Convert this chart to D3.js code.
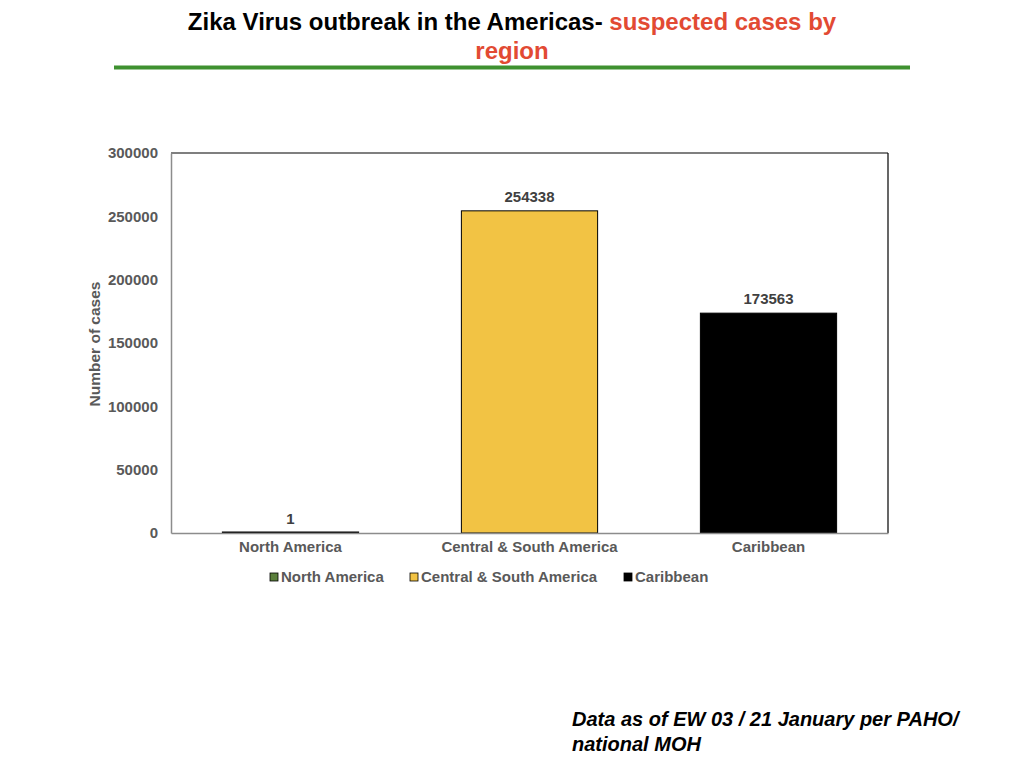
<!DOCTYPE html>
<html>
<head>
<meta charset="utf-8">
<script src="https://cdn.jsdelivr.net/npm/d3@7"></script>
<style>
  body { margin: 0; background: #fff; }
  svg { display: block; }
  text { font-family: "Liberation Sans", Arial, sans-serif; }
</style>
</head>
<body>
<script>
// Chart values
const regions = ["North America", "Central & South America", "Caribbean"];
const cases = [1, 254338, 173563];
const regionColors = ["#5b7f3c", "#f2c344", "#000000"];
const yTicks = [0, 50000, 100000, 150000, 200000, 250000, 300000];

const width = 1024;
const height = 768;
const plot = {left: 171, top: 153, right: 888, bottom: 533};

const svg = d3.select('body')
  .append('svg')
  .attr('width', width)
  .attr('height', height);

// Title
const title = svg.append('text')
  .attr('x', 512)
  .attr('y', 30)
  .attr('text-anchor', 'middle')
  .style('font-weight', 'bold')
  .style('font-size', '24px');
title.append('tspan').attr('fill', '#000').text('Zika Virus outbreak in the Americas- ');
title.append('tspan').attr('fill', '#e24a33').text('suspected cases by');

svg.append('text')
  .attr('x', 512)
  .attr('y', 59)
  .attr('text-anchor', 'middle')
  .attr('fill', '#e24a33')
  .style('font-weight', 'bold')
  .style('font-size', '24px')
  .text('region');

// Green rule under the title
svg.append('line')
  .attr('x1', 114).attr('x2', 910)
  .attr('y1', 67.5).attr('y2', 67.5)
  .attr('stroke', '#3f9130')
  .attr('stroke-width', 4);

// Scales
const x = d3.scaleBand()
  .domain(regions)
  .range([plot.left, plot.right])
  .paddingInner(0.43)
  .paddingOuter(0.215);

const y = d3.scaleLinear()
  .domain([0, 300000])
  .range([plot.bottom, plot.top]);

// Plot frame (top and right black, left and bottom gray)
svg.append('line')
  .attr('x1', plot.left).attr('x2', plot.right)
  .attr('y1', plot.top).attr('y2', plot.top)
  .attr('stroke', '#000').attr('stroke-width', 1.2);
svg.append('line')
  .attr('x1', plot.right).attr('x2', plot.right)
  .attr('y1', plot.top).attr('y2', plot.bottom)
  .attr('stroke', '#000').attr('stroke-width', 1.2);

// Bars
svg.append('g')
  .selectAll('rect')
  .data(regions)
  .join('rect')
  .attr('x', d => x(d))
  .attr('width', x.bandwidth())
  .attr('y', (d, i) => Math.min(y(cases[i]), plot.bottom - 1))
  .attr('height', (d, i) => Math.max(plot.bottom - y(cases[i]), 1))
  .attr('fill', (d, i) => regionColors[i])
  .attr('stroke', '#000')
  .attr('stroke-width', 1);

// Value labels
svg.append('g')
  .selectAll('text')
  .data(regions)
  .join('text')
  .attr('x', d => x(d) + x.bandwidth() / 2)
  .attr('y', (d, i) => y(cases[i]) - 9)
  .attr('text-anchor', 'middle')
  .attr('fill', '#404040')
  .style('font-size', '15px')
  .style('font-weight', 'bold')
  .text((d, i) => cases[i]);

// Y axis
const yAxis = svg.append('g')
  .attr('transform', `translate(${plot.left},0)`)
  .call(d3.axisLeft(y).tickValues(yTicks).tickSize(0).tickPadding(13).tickFormat(d3.format('d')));
yAxis.select('.domain').attr('stroke', '#8c8c8c').attr('stroke-width', 1.5);
yAxis.selectAll('text')
  .attr('fill', '#595959')
  .style('font-size', '15px')
  .style('font-weight', 'bold')
  .style('font-family', '"Liberation Sans", Arial, sans-serif');

// X axis
const xAxis = svg.append('g')
  .attr('transform', `translate(0,${plot.bottom})`)
  .call(d3.axisBottom(x).tickSize(0).tickPadding(8));
xAxis.select('.domain').attr('stroke', '#8c8c8c').attr('stroke-width', 1.5);
xAxis.selectAll('text')
  .attr('fill', '#595959')
  .style('font-size', '15px')
  .style('font-weight', 'bold')
  .style('font-family', '"Liberation Sans", Arial, sans-serif');

// Y axis title
svg.append('text')
  .attr('transform', `translate(100,${(plot.top + plot.bottom) / 2 + 1}) rotate(-90)`)
  .attr('text-anchor', 'middle')
  .attr('fill', '#595959')
  .style('font-size', '15.5px')
  .style('font-weight', 'bold')
  .text('Number of cases');

// Legend
const legendX = [270, 410, 624];
const legend = svg.append('g')
  .selectAll('g')
  .data(regions)
  .join('g')
  .attr('transform', (d, i) => `translate(${legendX[i]},576)`);
legend.append('rect')
  .attr('x', 0).attr('y', -3)
  .attr('width', 8).attr('height', 8)
  .attr('fill', (d, i) => regionColors[i])
  .attr('stroke', '#000').attr('stroke-width', 0.8);
legend.append('text')
  .attr('x', 11).attr('y', 6)
  .attr('fill', '#595959')
  .style('font-size', '15px')
  .style('font-weight', 'bold')
  .text(d => d);

// Footnote
const note = svg.append('text')
  .attr('fill', '#000')
  .style('font-size', '20px')
  .style('font-weight', 'bold')
  .style('font-style', 'italic');
note.append('tspan').attr('x', 572).attr('y', 726).text('Data as of EW 03 / 21 January per PAHO/');
note.append('tspan').attr('x', 572).attr('y', 751).text('national MOH');
</script>
</body>
</html>
